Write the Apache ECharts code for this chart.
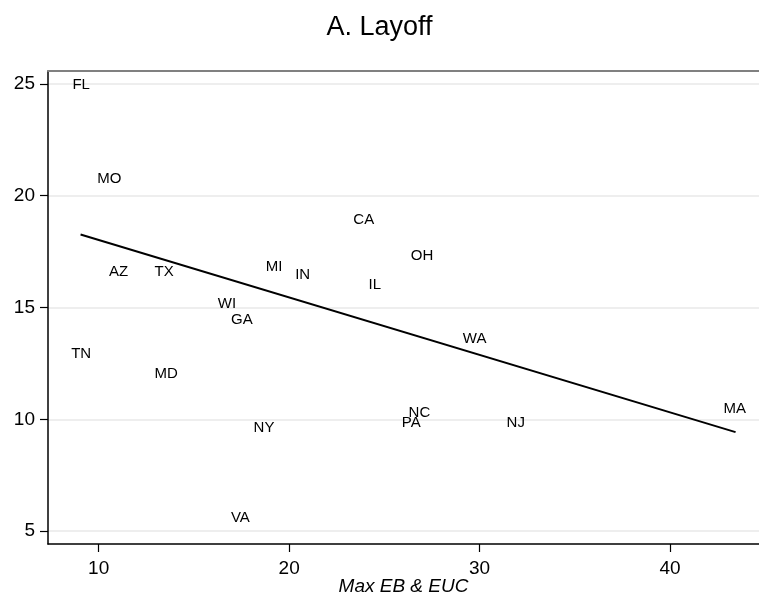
<!DOCTYPE html>
<html>
<head>
<meta charset="utf-8">
<script src="https://cdn.jsdelivr.net/npm/echarts@6/dist/echarts.min.js"></script>
<style>html,body{margin:0;padding:0;background:#fff}#c{width:759px;height:596px}</style>
</head>
<body>
<div id="c"></div>
<script>
// State labels and values (x = Max EB & EUC, y = layoff)
var states = ['FL','MO','AZ','TX','WI','GA','MI','IN','CA','OH','IL','WA','NC','PA','NY','NJ','MA','TN','MD','VA'];
var xVals  = [9.08,10.56,11.05,13.44,16.74,17.52,19.21,20.71,23.92,26.98,24.5,29.74,26.84,26.41,18.68,31.9,43.4,9.08,13.55,17.44];
var yVals  = [24.96,20.76,16.59,16.59,15.18,14.46,16.81,16.44,18.93,17.30,16.03,13.59,10.30,9.85,9.63,9.85,10.46,12.92,12.02,5.58];
// Fitted line endpoints
var fitX = [9.05, 43.44];
var fitY = [18.26, 9.43];
// Tick values
var xTicks = [10, 20, 30, 40];
var yTicks = [5, 10, 15, 20, 25];

var FONT = '"Liberation Sans", Arial, Helvetica, sans-serif';
var pts = states.map(function (s, i) { return [xVals[i], yVals[i], s]; });
var fit = fitX.map(function (x, i) { return [x, fitY[i]]; });

var chart = echarts.init(document.getElementById('c'), null, {renderer: 'canvas'});
chart.setOption({
  animation: false,
  backgroundColor: '#fff',
  title: {
    text: 'A. Layoff', left: 'center', top: 9,
    textStyle: {fontFamily: FONT, fontSize: 27, fontWeight: 'normal', color: '#000'}
  },
  grid: {left: 48, right: 0, top: 71, bottom: 52, containLabel: false, outerBoundsMode: 'none'},
  xAxis: [{
    type: 'value', min: 7.34, max: 44.67,
    name: 'Max EB & EUC', nameLocation: 'middle', nameGap: 33, nameMoveOverlap: false,
    nameTextStyle: {fontFamily: FONT, fontSize: 19, fontStyle: 'italic', color: '#000'},
    axisLine: {show: true, onZero: false, lineStyle: {color: '#000', width: 1.5}},
    axisTick: {show: true, length: 8, customValues: xTicks, lineStyle: {color: '#000', width: 1.2}},
    axisLabel: {customValues: xTicks, fontFamily: FONT, fontSize: 19, color: '#000', margin: 15},
    splitLine: {show: false}
  }, {
    type: 'value', position: 'top', min: 7.34, max: 44.67,
    axisLine: {show: true, onZero: false, lineStyle: {color: '#808080', width: 2}},
    axisTick: {show: false}, axisLabel: {show: false}, splitLine: {show: false}
  }],
  yAxis: {
    type: 'value', min: 4.43, max: 25.57,
    axisLine: {show: true, onZero: false, lineStyle: {color: '#000', width: 1.5}},
    axisTick: {show: true, length: 8, customValues: yTicks, lineStyle: {color: '#000', width: 1.2}},
    axisLabel: {customValues: yTicks, fontFamily: FONT, fontSize: 19, color: '#000', margin: 13},
    splitLine: {show: false}
  },
  series: [{
    type: 'line', data: [], z: 1, silent: true,
    markLine: {
      silent: true, symbol: 'none', animation: false, z: 0,
      label: {show: false},
      lineStyle: {color: '#e8e8e8', width: 1.5, type: 'solid'},
      data: yTicks.map(function (v) { return {yAxis: v}; })
    }
  }, {
    type: 'scatter', data: pts, symbolSize: 0, z: 3,
    itemStyle: {opacity: 1},
    label: {
      show: true, position: 'inside', opacity: 1,
      formatter: function (p) { return p.data[2]; },
      fontFamily: FONT, fontSize: 15, color: '#000'
    }
  }, {
    type: 'line', data: fit, symbol: 'none', z: 2,
    lineStyle: {color: '#000', width: 2}
  }]
});
</script>
</body>
</html>
